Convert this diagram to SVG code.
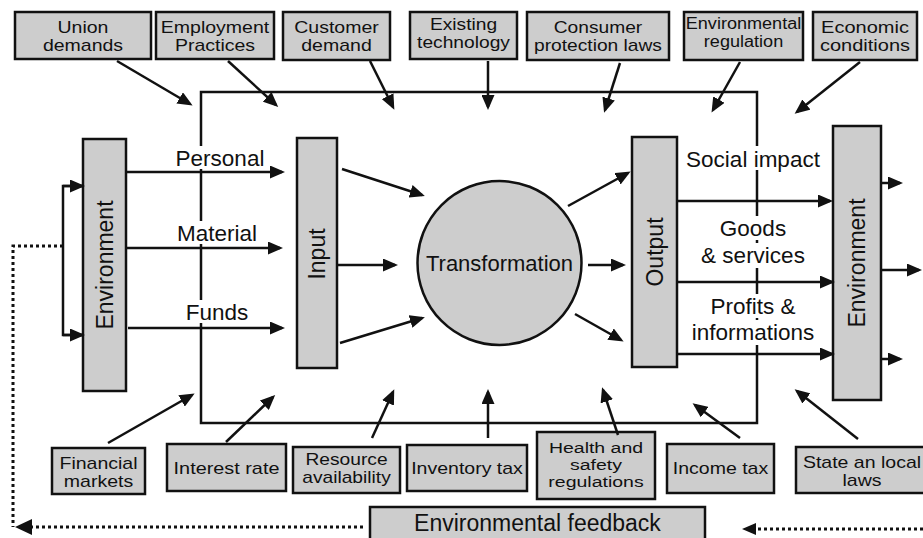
<svg xmlns="http://www.w3.org/2000/svg" width="923" height="538" viewBox="0 0 923 538">
<style>
.box{fill:#cdcdcd;stroke:#111;stroke-width:2.5}
.t{font-family:"Liberation Sans",Arial,sans-serif;font-size:16px;fill:#111;text-anchor:middle}
.s3{font-size:15px}
.lab{font-family:"Liberation Sans",Arial,sans-serif;font-size:22.5px;fill:#111;text-anchor:middle}
.big{font-family:"Liberation Sans",Arial,sans-serif;font-size:23px;fill:#111;text-anchor:middle}
.ln{fill:none;stroke:#111;stroke-width:2.5;marker-end:url(#ah)}
.pl{fill:none;stroke:#111;stroke-width:2.5}
.dot{fill:none;stroke:#111;stroke-width:3;stroke-dasharray:3 3}
.wb{fill:#fff}
</style>
<defs>
<marker id="ah" markerUnits="userSpaceOnUse" markerWidth="15" markerHeight="13" refX="12" refY="6.5" orient="auto">
<path d="M0,0 L15,6.5 L0,13 z" fill="#111"/>
</marker>
</defs>
<rect id="frame" x="201" y="92" width="556" height="331" fill="none" stroke="#111" stroke-width="2.5"/>
<g id="flow-labels">
<rect class="wb" x="172" y="146" width="98" height="23"/>
<text class="lab" x="220" y="166">Personal</text>
<rect class="wb" x="172" y="221" width="92" height="23"/>
<text class="lab" x="217" y="241">Material</text>
<rect class="wb" x="180" y="300" width="76" height="23"/>
<text class="lab" x="217" y="320">Funds</text>
<rect class="wb" x="680" y="146" width="146" height="24"/>
<text class="lab" x="753" y="167">Social impact</text>
<rect class="wb" x="720" y="216" width="70" height="24"/>
<rect class="wb" x="697" y="243" width="114" height="25"/>
<text class="lab" x="753" y="236">Goods</text>
<text class="lab" x="753" y="263">&amp; services</text>
<rect class="wb" x="705" y="294" width="96" height="24"/>
<rect class="wb" x="688" y="320" width="132" height="25"/>
<text class="lab" x="753" y="314">Profits &amp;</text>
<text class="lab" x="753" y="340">informations</text>
</g>
<g id="top-boxes">
<g id="union"><rect class="box" x="15" y="12" width="136" height="47"/><text class="t" transform="translate(83,33) scale(1.22,1)">Union</text><text class="t" transform="translate(83,51) scale(1.22,1)">demands</text></g>
<g id="employment"><rect class="box" x="156" y="12" width="118" height="47"/><text class="t" transform="translate(215,33) scale(1.22,1)">Employment</text><text class="t" transform="translate(215,51) scale(1.22,1)">Practices</text></g>
<g id="customer"><rect class="box" x="283" y="12" width="107" height="48"/><text class="t" transform="translate(336.5,33) scale(1.22,1)">Customer</text><text class="t" transform="translate(336.5,51) scale(1.22,1)">demand</text></g>
<g id="existing"><rect class="box" x="410" y="12" width="107" height="47"/><text class="t" transform="translate(463.5,30) scale(1.2,1)">Existing</text><text class="t" transform="translate(463.5,48) scale(1.2,1)">technology</text></g>
<g id="consumer"><rect class="box" x="527" y="12" width="142" height="48"/><text class="t" transform="translate(598,33) scale(1.2,1)">Consumer</text><text class="t" transform="translate(598,51) scale(1.2,1)">protection laws</text></g>
<g id="envreg"><rect class="box" x="684" y="12" width="119" height="48"/><text class="t" transform="translate(743.5,29) scale(1.13,1)">Environmental</text><text class="t" transform="translate(743.5,47) scale(1.13,1)">regulation</text></g>
<g id="economic"><rect class="box" x="813" y="12" width="104" height="48"/><text class="t" transform="translate(865,33) scale(1.25,1)">Economic</text><text class="t" transform="translate(865,51) scale(1.25,1)">conditions</text></g>
</g>
<g id="bottom-boxes">
<g id="financial"><rect class="box" x="52" y="448" width="93" height="46"/><text class="t" transform="translate(98.5,469) scale(1.22,1)">Financial</text><text class="t" transform="translate(98.5,487) scale(1.22,1)">markets</text></g>
<g id="interest"><rect class="box" x="167" y="444" width="119" height="47"/><text class="t" transform="translate(226.5,474) scale(1.24,1)">Interest rate</text></g>
<g id="resource"><rect class="box" x="293" y="447" width="107" height="46"/><text class="t" transform="translate(346.5,465) scale(1.2,1)">Resource</text><text class="t" transform="translate(346.5,483) scale(1.2,1)">availability</text></g>
<g id="inventory"><rect class="box" x="407" y="445" width="120" height="46"/><text class="t" transform="translate(467,474) scale(1.22,1)">Inventory tax</text></g>
<g id="health"><rect class="box" x="537" y="432" width="118" height="67"/><text class="t s3" transform="translate(596,453) scale(1.3,1)">Health and</text><text class="t s3" transform="translate(596,470) scale(1.3,1)">safety</text><text class="t s3" transform="translate(596,487) scale(1.3,1)">regulations</text></g>
<g id="income"><rect class="box" x="667" y="444" width="107" height="49"/><text class="t" transform="translate(720.5,474) scale(1.22,1)">Income tax</text></g>
<g id="state"><rect class="box" x="796" y="447" width="135" height="46"/><text class="t" transform="translate(862,468) scale(1.22,1)">State an local</text><text class="t" transform="translate(862,486) scale(1.22,1)">laws</text></g>
</g>
<g id="env-left"><rect class="box" x="83" y="139" width="43" height="252"/><text class="big" transform="translate(104.5,265) rotate(-90)" x="0" y="8">Environment</text></g>
<g id="input"><rect class="box" x="297" y="138" width="40" height="230"/><text class="big" transform="translate(317,254) rotate(-90)" x="0" y="8">Input</text></g>
<g id="transformation"><circle cx="499.5" cy="263" r="82" fill="#cdcdcd" stroke="#111" stroke-width="2.5"/><text class="lab" x="499.5" y="271" style="font-size:22px">Transformation</text></g>
<g id="output"><rect class="box" x="632" y="137" width="45" height="230"/><text class="big" transform="translate(654.5,252) rotate(-90)" x="0" y="8">Output</text></g>
<g id="env-right"><rect class="box" x="833" y="126" width="48" height="274"/><text class="big" transform="translate(857,263) rotate(-90)" x="0" y="8">Environment</text></g>
<g id="feedback"><rect class="box" x="370" y="507" width="335" height="36"/><text class="big" x="537.5" y="531">Environmental feedback</text></g>
<g id="connectors">
<line class="ln" x1="117" y1="61" x2="190" y2="104"/>
<line class="ln" x1="228" y1="61" x2="276" y2="105"/>
<line class="ln" x1="370" y1="61" x2="393" y2="107"/>
<line class="ln" x1="488" y1="61" x2="488" y2="107"/>
<line class="ln" x1="620" y1="63" x2="605" y2="110"/>
<line class="ln" x1="740" y1="62" x2="713" y2="110"/>
<line class="ln" x1="860" y1="62" x2="797" y2="112"/>
<line class="ln" x1="108" y1="443" x2="192" y2="395"/>
<line class="ln" x1="226" y1="442" x2="273" y2="397"/>
<line class="ln" x1="372" y1="438" x2="393" y2="392"/>
<line class="ln" x1="488" y1="438" x2="488" y2="392"/>
<line class="ln" x1="618" y1="435" x2="603" y2="390"/>
<line class="ln" x1="740" y1="438" x2="695" y2="405"/>
<line class="ln" x1="858" y1="439" x2="797" y2="391"/>
<line class="ln" x1="126" y1="172" x2="282" y2="172"/>
<line class="ln" x1="126" y1="248" x2="280" y2="248"/>
<line class="ln" x1="128" y1="328" x2="282" y2="328"/>
<line class="ln" x1="342" y1="169" x2="422" y2="195"/>
<line class="ln" x1="337" y1="265" x2="395" y2="265"/>
<line class="ln" x1="340" y1="343" x2="422" y2="318"/>
<line class="ln" x1="568" y1="206" x2="628" y2="173"/>
<line class="ln" x1="588" y1="265" x2="623" y2="265"/>
<line class="ln" x1="575" y1="314" x2="621" y2="340"/>
<line class="ln" x1="677" y1="201" x2="830" y2="201"/>
<line class="ln" x1="677" y1="282" x2="832" y2="282"/>
<line class="ln" x1="677" y1="354" x2="832" y2="354"/>
<line class="ln" x1="881" y1="183" x2="900" y2="183"/>
<line class="ln" x1="881" y1="270" x2="919" y2="270"/>
<line class="ln" x1="881" y1="359" x2="900" y2="359"/>
<path class="pl" d="M82,186 H63 V335 H82"/>
<line class="ln" x1="63" y1="186" x2="82" y2="186"/>
<line class="ln" x1="63" y1="335" x2="82" y2="335"/>
<path class="dot" d="M63,246 H13 V527"/>
<line class="dot" x1="363" y1="527" x2="28" y2="527"/>
<path d="M15,527 L32,519 L32,535 z" fill="#111"/>
<line class="dot" x1="923" y1="529" x2="755" y2="529"/>
<path d="M742,529 L756,523 L756,535 z" fill="#111"/>
</g>
</svg>
